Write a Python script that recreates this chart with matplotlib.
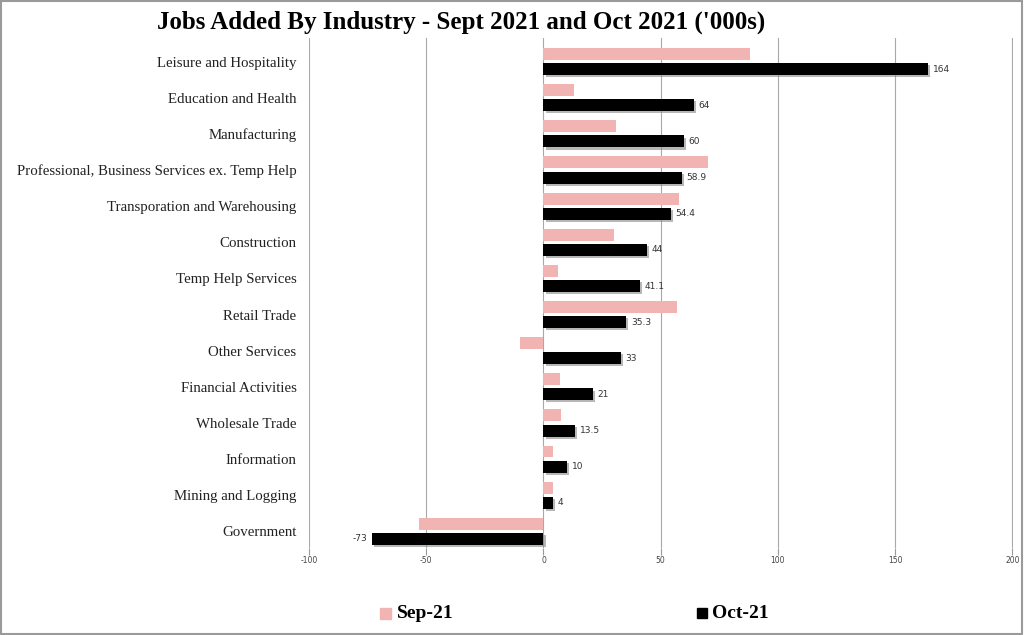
import numpy as np
import matplotlib
matplotlib.use("Agg")
import matplotlib.pyplot as plt
import matplotlib.patheffects as pe
from matplotlib.patches import Rectangle

industries = ["Leisure and Hospitality", "Education and Health", "Manufacturing",
              "Professional, Business Services ex. Temp Help",
              "Transporation and Warehousing", "Construction", "Temp Help Services",
              "Retail Trade", "Other Services", "Financial Activities",
              "Wholesale Trade", "Information", "Mining and Logging", "Government"]
sep21 = [88, 13, 31, 70, 57.6, 30, 6, 57, -10, 7, 7.5, 4, 4, -53]
oct21 = [164, 64, 60, 58.9, 54.4, 44, 41.1, 35.3, 33, 21, 13.5, 10, 4, -73]
oct_labels = ["164", "64", "60", "58.9", "54.4", "44", "41.1", "35.3", "33", "21",
              "13.5", "10", "4", "-73"]
xticks = [-100, -50, 0, 50, 100, 150, 200]

serif = "Liberation Serif"
pink = "#F2B3B3"

fig = plt.figure(figsize=(10.24, 6.35), dpi=100)
ax = fig.add_axes([0.3018, 0.137, 0.6875, 0.803])

y = np.arange(len(industries))
h = 0.33
off = 0.21
ax.barh(y - off, sep21, height=h, color=pink, zorder=3)
bars = ax.barh(y + off, oct21, height=h, color="black", zorder=3)
for b in bars:
    b.set_path_effects([pe.SimplePatchShadow(offset=(1.5, -1.5), shadow_rgbFace="#888888", alpha=0.6),
                        pe.Normal()])

for yy, v, lab in zip(y, oct21, oct_labels):
    if v >= 0:
        ax.text(v + 2, yy + off, lab, va="center", ha="left", fontsize=6.5,
                color="#333333", family="DejaVu Sans")
    else:
        ax.text(v - 2, yy + off, lab, va="center", ha="right", fontsize=6.5,
                color="#333333", family="DejaVu Sans")

ax.set_xlim(-100, 200.3)
ax.set_ylim(13.46, -0.65)
ax.set_xticks(xticks)
ax.set_xticklabels([str(t) for t in xticks], fontsize=5.5, color="#444444")
ax.tick_params(axis="x", length=5, color="#999999", pad=1)
ax.set_yticks(y)
ax.set_yticklabels(industries, family=serif, fontsize=10.7, color="#222222")
ax.tick_params(axis="y", length=0, pad=9)
ax.grid(axis="x", color="#A8A8A8", linewidth=0.8, zorder=0)
for s in ax.spines.values():
    s.set_visible(False)

fig.text(0.45, 0.965, "Jobs Added By Industry - Sept 2021 and Oct 2021 ('000s)",
         ha="center", va="center", family=serif, fontweight="bold", fontsize=18)

# legend
fig.patches.append(Rectangle((380 / 1024, 1 - 619 / 635), 11 / 1024, 11 / 635,
                             transform=fig.transFigure, color=pink))
fig.text(397 / 1024, 1 - 613 / 635, "Sep-21", ha="left", va="center",
         family=serif, fontweight="bold", fontsize=14)
fig.patches.append(Rectangle((697 / 1024, 1 - 618 / 635), 10 / 1024, 10 / 635,
                             transform=fig.transFigure, color="black"))
fig.text(712 / 1024, 1 - 613 / 635, "Oct-21", ha="left", va="center",
         family=serif, fontweight="bold", fontsize=14)

# outer border
fig.patches.append(Rectangle((0.001, 0.002), 0.997, 0.996, transform=fig.transFigure,
                             fill=False, edgecolor="#9A9A9A", linewidth=1.5))

fig.savefig("out.png", dpi=100)
